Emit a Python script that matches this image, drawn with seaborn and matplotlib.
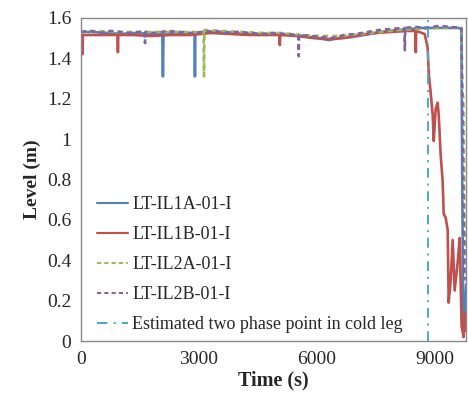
import numpy as np
import pandas as pd
import matplotlib
matplotlib.use("Agg")
import matplotlib.pyplot as plt
import seaborn as sns

# Level traces (time in s, level in m)
t_1a = [0, 300, 700, 1000, 1400, 1800, 2070, 2085, 2100, 2400, 2700, 2890, 2900, 2910,
        3300, 3700, 4100, 4500, 4900, 5300, 5700, 6000, 6300, 6600, 6900, 7200, 7500,
        7800, 8100, 8400, 8700, 9000, 9300, 9600, 9680, 9705, 9730, 9760, 9800]
lv_1a = [1.53, 1.53, 1.525, 1.52, 1.525, 1.52, 1.52, 1.31, 1.52, 1.525, 1.52, 1.52, 1.31, 1.52,
         1.53, 1.53, 1.52, 1.52, 1.52, 1.515, 1.51, 1.50, 1.49, 1.50, 1.505, 1.515, 1.525,
         1.535, 1.54, 1.545, 1.55, 1.55, 1.55, 1.55, 1.545, 0.7, 0.02, 0.12, 0.28]

t_1b = [0, 30, 40, 50, 400, 930, 940, 950, 1300, 1800, 2300, 2800, 3300, 3800, 4300,
        4800, 5050, 5060, 5070, 5500, 5900, 6300, 6700, 7100, 7500, 7900, 8300, 8510,
        8520, 8530, 8746, 8822, 8847, 8898, 8949, 8975, 9025, 9076, 9102, 9153, 9203,
        9229, 9280, 9331, 9356, 9407, 9458, 9508, 9585, 9636, 9686, 9737, 9763, 9790]
lv_1b = [1.515, 1.515, 1.42, 1.515, 1.515, 1.515, 1.43, 1.515, 1.515, 1.51, 1.515, 1.515,
         1.525, 1.52, 1.515, 1.515, 1.515, 1.465, 1.515, 1.51, 1.50, 1.495, 1.50, 1.515,
         1.525, 1.53, 1.535, 1.535, 1.43, 1.535, 1.52, 1.45, 1.33, 1.23, 1.12, 0.99, 1.15,
         1.18, 1.12, 0.92, 0.79, 0.63, 0.61, 0.55, 0.19, 0.30, 0.50, 0.25, 0.39, 0.51,
         0.07, 0.02, 0.14, 0.05]

t_2a = [0, 400, 900, 1400, 1900, 2400, 2900, 3120, 3130, 3140, 3600, 4100, 4600, 5100,
        5600, 6100, 6600, 7100, 7600, 8100, 8600, 9100, 9600, 9680, 9700, 9730, 9760, 9800]
lv_2a = [1.53, 1.535, 1.53, 1.53, 1.53, 1.53, 1.53, 1.53, 1.31, 1.54, 1.535, 1.53, 1.525,
         1.525, 1.515, 1.51, 1.51, 1.52, 1.53, 1.54, 1.545, 1.55, 1.55, 1.545, 1.24, 1.2,
         0.45, 0.32]

t_2b = [0, 250, 500, 750, 1000, 1250, 1500, 1620, 1630, 1640, 1900, 2200, 2500, 2800,
        3100, 3400, 3700, 4000, 4300, 4600, 4900, 5200, 5530, 5540, 5550, 5800, 6100,
        6400, 6700, 7000, 7300, 7600, 7900, 8230, 8240, 8250, 8500, 8800, 9100, 9400,
        9680, 9720, 9760, 9790]
lv_2b = [1.53, 1.535, 1.525, 1.535, 1.53, 1.525, 1.53, 1.53, 1.475, 1.53, 1.525, 1.535,
         1.53, 1.525, 1.53, 1.535, 1.525, 1.53, 1.525, 1.52, 1.525, 1.52, 1.515, 1.41,
         1.515, 1.51, 1.505, 1.50, 1.515, 1.52, 1.53, 1.54, 1.545, 1.55, 1.44, 1.55,
         1.555, 1.55, 1.56, 1.555, 1.55, 0.9, 0.34, 0.3]

two_phase_t = 8830

names = ["LT-IL1A-01-I", "LT-IL1B-01-I", "LT-IL2A-01-I", "LT-IL2B-01-I"]
colors = ["#4F81BD", "#C0504D", "#9BBB59", "#8064A2"]
styles = ["-", "-", (0, (2, 1.5)), (0, (2, 1.5))]
series = [(t_1a, lv_1a), (t_1b, lv_1b), (t_2a, lv_2a), (t_2b, lv_2b)]

sns.set_style("white")
plt.rcParams["font.family"] = ["Liberation Serif", "DejaVu Serif"]

fig = plt.figure(figsize=(4.68, 4.05), dpi=100)
ax = fig.add_axes([0.173, 0.158, 0.823, 0.798])

for name, (t, lv), c, ls in zip(names, series, colors, styles):
    df = pd.DataFrame({"t": t, "lv": lv})
    sns.lineplot(data=df, x="t", y="lv", ax=ax, color=c, linestyle=ls, lw=1.9,
                 sort=False, estimator=None, label=name)

ax.axvline(two_phase_t, color="#4BACC6", lw=1.4, linestyle=(0, (5, 3, 1, 3)),
           label="Estimated two phase point in cold leg")

ax.set_xlim(0, 9800)
ax.set_ylim(0, 1.6)
ax.set_xticks([0, 3000, 6000, 9000])
ax.set_xticklabels(["0", "3000", "6000", "9000"])
yt = [0, 0.2, 0.4, 0.6, 0.8, 1.0, 1.2, 1.4, 1.6]
ax.set_yticks(yt)
ax.set_yticklabels(["0", "0.2", "0.4", "0.6", "0.8", "1", "1.2", "1.4", "1.6"])
ax.tick_params(direction="in", length=4, width=0.8, color="#888888", labelsize=14, pad=7)
for s in ax.spines.values():
    s.set_color("#888888")
    s.set_linewidth(1.0)

ax.set_xlabel("Time (s)", fontsize=14.5, fontweight="bold", labelpad=2)
ax.set_ylabel("Level (m)", fontsize=14, fontweight="bold", labelpad=4)

leg = ax.legend(loc="lower left", bbox_to_anchor=(0.021, 0.0), frameon=False, fontsize=13,
                handlelength=1.7, handletextpad=0.25, labelspacing=0.72, borderaxespad=0.05)
for h in leg.get_lines():
    h.set_linewidth(1.5)

fig.savefig("out.png", dpi=100)
